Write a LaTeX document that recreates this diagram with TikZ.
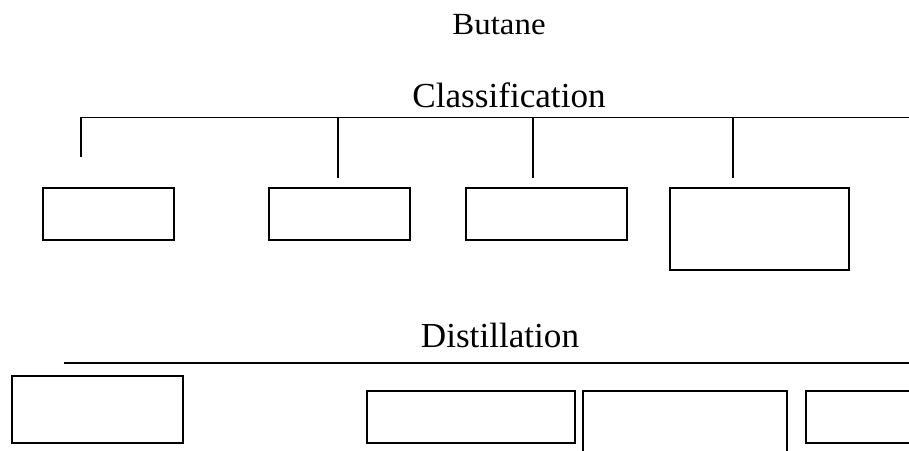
\documentclass[tikz,border=0pt]{standalone}
\usepackage{fontspec}
\setmainfont{Liberation Serif}
\usepackage{tikz}
\usetikzlibrary{positioning, calc}

\begin{document}
\begin{tikzpicture}[
    line width=0.8pt,
    box/.style={draw, rectangle, inner sep=0pt, outer sep=0pt},
    heading/.style={anchor=base, font=\fontsize{20}{24}\selectfont},
    tick/.style={line width=0.7pt}
]
\path[use as bounding box, clip] (0,0) rectangle (18.18,9);

% Titles
\node[anchor=base, font=\fontsize{17.5}{21}\selectfont] (title) at (9.98,8.30) {\scalebox{1.07}[1]{Butane}};
\node[heading] (cls) at (10.18,6.84) {Classification};
\node[heading] (dist) at (10.0,2.06) {Distillation};

% Classification bar and its ticks
\coordinate (cbar0) at (1.62,6.65);
\coordinate (cbar1) at (18.4,6.65);
\draw (cbar0) -- (cbar1);

\coordinate (t1) at (1.62,5.86);
\coordinate (t2) at (6.76,5.44);
\coordinate (t3) at (10.66,5.44);
\coordinate (t4) at (14.66,5.44);
\draw[tick] (cbar0) -- (t1);
\draw[tick] (t2 |- cbar0) -- (t2);
\draw (t3 |- cbar0) -- (t3);
\draw[tick] (t4 |- cbar0) -- (t4);

% Classification boxes
\node[box, minimum width=2.62cm, minimum height=1.04cm] (c1) at (2.17,4.72) {};
\node[box, minimum width=2.82cm, minimum height=1.04cm] (c2) at (6.79,4.72) {};
\node[box, minimum width=3.22cm, minimum height=1.04cm] (c3) at (10.93,4.72) {};
\node[box, minimum width=3.58cm, minimum height=1.64cm] (c4) at (15.19,4.42) {};

% Distillation bar
\coordinate (dbar0) at (1.28,1.74);
\coordinate (dbar1) at (18.4,1.74);
\draw (dbar0) -- (dbar1);

% Distillation boxes
\node[box, minimum width=3.42cm, minimum height=1.34cm] (d1) at (1.95,0.81) {};
\node[box, minimum width=4.16cm, minimum height=1.04cm] (d2) at (9.42,0.66) {};
\node[box, minimum width=4.08cm, minimum height=1.58cm] (d3) at (13.70,0.39) {};
\node[box, minimum width=2.88cm, minimum height=1.04cm] (d4) at (17.56,0.66) {};

\end{tikzpicture}
\end{document}
